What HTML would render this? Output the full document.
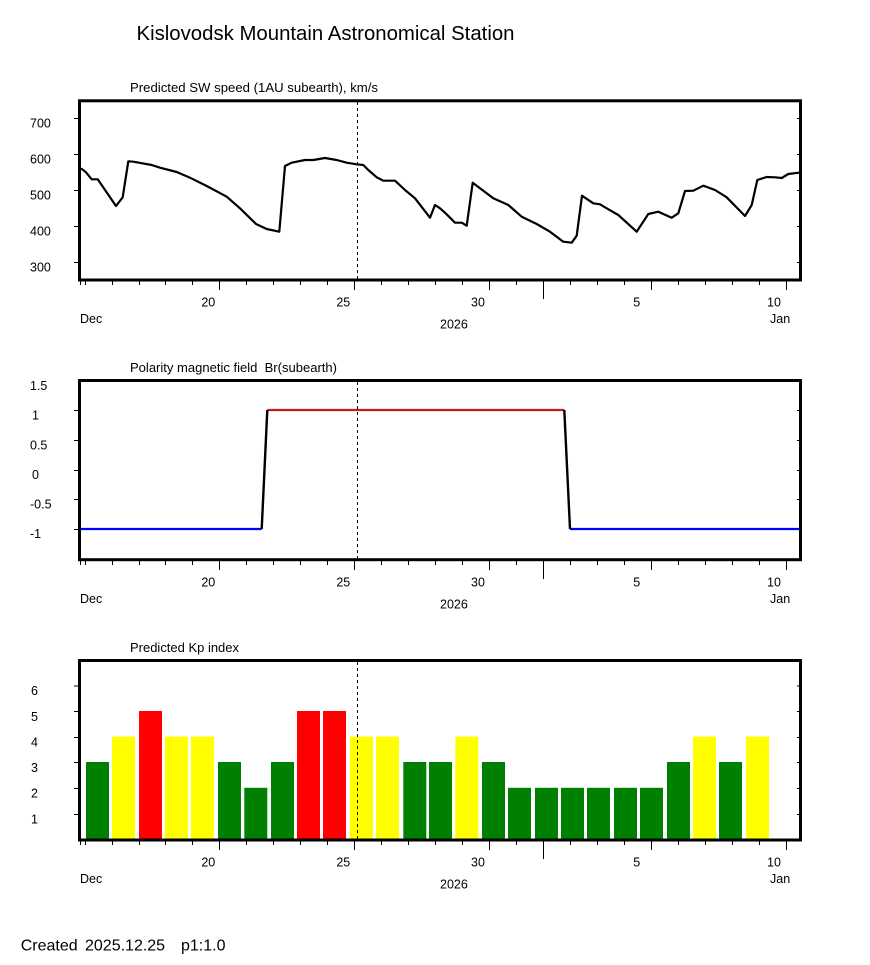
<!DOCTYPE html>
<html>
<head>
<meta charset="utf-8">
<style>
html,body{margin:0;padding:0;background:#fff;}
svg{display:block;}
text{font-family:"Liberation Sans",Arial,sans-serif;fill:#000;}
</style>
</head>
<body>
<svg width="870" height="965" viewBox="0 0 870 965" xmlns="http://www.w3.org/2000/svg">
<rect x="0" y="0" width="870" height="965" fill="#fff"/>

<text x="136.5" y="40" font-size="20" textLength="378" lengthAdjust="spacingAndGlyphs">Kislovodsk Mountain Astronomical Station</text>

<!-- ============ PLOT 1 ============ -->
<text x="130" y="92" font-size="13" textLength="248" lengthAdjust="spacingAndGlyphs">Predicted SW speed (1AU subearth), km/s</text>
<g font-size="12.5">
<text x="30" y="127.5">700</text>
<text x="30" y="163.5">600</text>
<text x="30" y="199.5">500</text>
<text x="30" y="235.5">400</text>
<text x="30" y="271.5">300</text>
</g>
<path d="M74 118.5H79 M74 154.5H79 M74 190.5H79 M74 226.5H79 M74 262.5H79 M797 118.5H800 M797 154.5H800 M797 190.5H800 M797 226.5H800 M797 262.5H800" stroke="#000" stroke-width="1" fill="none"/>
<polyline fill="none" stroke="#000" stroke-width="2.2" stroke-linejoin="round" points="81,168.3 86,172.3 91.7,179.3 97.7,179.3 116,206 122.7,197.3 128.3,161.3 133.3,161.7 151.7,165 160,167.7 176.7,172 190,177.7 206.7,186 226.7,196.7 240,208.3 256,224 266.7,229 279.3,231.7 285,166 291.7,162.7 305,160 313.3,160 325,158 336.7,160 346.7,162.7 356.7,164.3 363.3,165 368.3,170 376.7,177.3 383.3,180.7 395,180.7 405,190 415,198.3 430,217.7 435,205 440,208.3 445,212.7 455,222.7 461.7,222.7 466.7,225.7 472.7,182.7 480,188.3 493.3,198.3 508.3,205 521.7,216.7 536.7,224 550,231.7 563.3,241.7 571.7,242.7 576.7,235.7 582,195.7 593.3,203.3 600,204.3 606.7,208.3 618.3,215 636.7,231.7 648.3,214 658.3,211.7 671.7,217.7 678.3,213.3 685,191 693.3,190.7 703.3,185.7 715,190 726.7,197.3 745,216 751.7,205 757.3,180 766.7,177 775,177.3 781.7,178 788.3,174 799,172.7"/>
<line x1="357.5" y1="102" x2="357.5" y2="279" stroke="#000" stroke-width="1" stroke-dasharray="3,3"/>
<rect x="79.5" y="100.8" width="721" height="179.2" fill="none" stroke="#000" stroke-width="3"/>

<!-- ============ PLOT 2 ============ -->
<text x="130" y="372" font-size="13" textLength="207" lengthAdjust="spacingAndGlyphs" xml:space="preserve">Polarity magnetic field  Br(subearth)</text>
<g font-size="12.5">
<text x="30" y="390">1.5</text>
<text x="32" y="419.5">1</text>
<text x="30" y="449.5">0.5</text>
<text x="32" y="479">0</text>
<text x="30" y="508.5">-0.5</text>
<text x="30" y="538">-1</text>
</g>
<path d="M74 410.5H79 M74 440.5H79 M74 470.5H79 M74 499.5H79 M74 529.5H79 M797 410.5H800 M797 440.5H800 M797 470.5H800 M797 499.5H800 M797 529.5H800" stroke="#000" stroke-width="1" fill="none"/>
<path d="M81 529H261.7" stroke="#0000ff" stroke-width="2.2" fill="none"/>
<path d="M267.3 410H564.3" stroke="#c01c1c" stroke-width="2.2" fill="none"/>
<path d="M570 529H799" stroke="#0000ff" stroke-width="2.2" fill="none"/>
<path d="M261.7 529L267.3 410 M564.3 410L570 529" stroke="#000" stroke-width="2.4" fill="none"/>
<line x1="357.5" y1="382" x2="357.5" y2="559" stroke="#000" stroke-width="1" stroke-dasharray="3,3"/>
<rect x="79.5" y="380.5" width="721" height="179.2" fill="none" stroke="#000" stroke-width="3"/>

<!-- ============ PLOT 3 ============ -->
<text x="130" y="652" font-size="13" textLength="109" lengthAdjust="spacingAndGlyphs">Predicted Kp index</text>
<g font-size="12.5">
<text x="31" y="695">6</text>
<text x="31" y="721">5</text>
<text x="31" y="746.5">4</text>
<text x="31" y="772">3</text>
<text x="31" y="797.5">2</text>
<text x="31" y="823.5">1</text>
</g>
<path d="M74 686H79 M74 711.5H79 M74 737.5H79 M74 762.5H79 M74 788.5H79 M74 814.5H79 M797 686H800 M797 711.5H800 M797 737.5H800 M797 762.5H800 M797 788.5H800 M797 814.5H800" stroke="#000" stroke-width="1" fill="none"/>
<g>
<rect x="86" y="762" width="23" height="78" fill="#008000"/>
<rect x="112" y="736.6" width="23" height="103.4" fill="#ffff00"/>
<rect x="139" y="711" width="23" height="129" fill="#ff0000"/>
<rect x="165" y="736.6" width="23" height="103.4" fill="#ffff00"/>
<rect x="191" y="736.6" width="23" height="103.4" fill="#ffff00"/>
<rect x="218" y="762" width="23" height="78" fill="#008000"/>
<rect x="244.3" y="787.8" width="23" height="52.2" fill="#008000"/>
<rect x="271" y="762" width="23" height="78" fill="#008000"/>
<rect x="297" y="711" width="23" height="129" fill="#ff0000"/>
<rect x="323" y="711" width="23" height="129" fill="#ff0000"/>
<rect x="350" y="736.6" width="23" height="103.4" fill="#ffff00"/>
<rect x="376" y="736.6" width="23" height="103.4" fill="#ffff00"/>
<rect x="403.3" y="762" width="23" height="78" fill="#008000"/>
<rect x="429" y="762" width="23" height="78" fill="#008000"/>
<rect x="455.3" y="736.6" width="23" height="103.4" fill="#ffff00"/>
<rect x="482" y="762" width="23" height="78" fill="#008000"/>
<rect x="508" y="787.8" width="23" height="52.2" fill="#008000"/>
<rect x="535" y="787.8" width="23" height="52.2" fill="#008000"/>
<rect x="561" y="787.8" width="23" height="52.2" fill="#008000"/>
<rect x="587" y="787.8" width="23" height="52.2" fill="#008000"/>
<rect x="614" y="787.8" width="23" height="52.2" fill="#008000"/>
<rect x="640" y="787.8" width="23" height="52.2" fill="#008000"/>
<rect x="667" y="762" width="23" height="78" fill="#008000"/>
<rect x="693" y="736.6" width="23" height="103.4" fill="#ffff00"/>
<rect x="719" y="762" width="23" height="78" fill="#008000"/>
<rect x="746" y="736.6" width="23" height="103.4" fill="#ffff00"/>
</g>
<line x1="357.5" y1="662" x2="357.5" y2="839" stroke="#000" stroke-width="1" stroke-dasharray="3,3"/>
<rect x="79.5" y="660.5" width="721" height="179.5" fill="none" stroke="#000" stroke-width="3"/>

<!-- ============ X AXES (ticks) ============ -->
<path d="M80.5 281V285 M85.5 281V285 M112.5 281V285 M139.5 281V285 M165.5 281V285 M192.5 281V285 M219.5 281V290 M246.5 281V285 M273.5 281V285 M300.5 281V285 M327.5 281V285 M354.5 281V290 M381.5 281V285 M408.5 281V285 M435.5 281V285 M462.5 281V285 M489.5 281V290 M516.5 281V285 M543.5 281V299 M570.5 281V285 M597.5 281V285 M624.5 281V285 M651.5 281V290 M678.5 281V285 M705.5 281V285 M732.5 281V285 M759.5 281V285 M786.5 281V290" stroke="#000" stroke-width="1" fill="none"/>
<path d="M80.5 561V565 M85.5 561V565 M112.5 561V565 M139.5 561V565 M165.5 561V565 M192.5 561V565 M219.5 561V570 M246.5 561V565 M273.5 561V565 M300.5 561V565 M327.5 561V565 M354.5 561V570 M381.5 561V565 M408.5 561V565 M435.5 561V565 M462.5 561V565 M489.5 561V570 M516.5 561V565 M543.5 561V579 M570.5 561V565 M597.5 561V565 M624.5 561V565 M651.5 561V570 M678.5 561V565 M705.5 561V565 M732.5 561V565 M759.5 561V565 M786.5 561V570" stroke="#000" stroke-width="1" fill="none"/>
<path d="M80.5 841V845 M85.5 841V845 M112.5 841V845 M139.5 841V845 M165.5 841V845 M192.5 841V845 M219.5 841V850 M246.5 841V845 M273.5 841V845 M300.5 841V845 M327.5 841V845 M354.5 841V850 M381.5 841V845 M408.5 841V845 M435.5 841V845 M462.5 841V845 M489.5 841V850 M516.5 841V845 M543.5 841V859 M570.5 841V845 M597.5 841V845 M624.5 841V845 M651.5 841V850 M678.5 841V845 M705.5 841V845 M732.5 841V845 M759.5 841V845 M786.5 841V850" stroke="#000" stroke-width="1" fill="none"/>

<g font-size="12.5" text-anchor="middle">
<text x="208.3" y="306.5">20</text>
<text x="343.3" y="306.5">25</text>
<text x="478" y="306.5">30</text>
<text x="636.7" y="306.5">5</text>
<text x="774" y="306.5">10</text>
<text x="208.3" y="586.5">20</text>
<text x="343.3" y="586.5">25</text>
<text x="478" y="586.5">30</text>
<text x="636.7" y="586.5">5</text>
<text x="774" y="586.5">10</text>
<text x="208.3" y="866.5">20</text>
<text x="343.3" y="866.5">25</text>
<text x="478" y="866.5">30</text>
<text x="636.7" y="866.5">5</text>
<text x="774" y="866.5">10</text>
</g>
<g font-size="12.5">
<text x="80" y="323">Dec</text>
<text x="440" y="328.3">2026</text>
<text x="770" y="323">Jan</text>
<text x="80" y="603">Dec</text>
<text x="440" y="608.3">2026</text>
<text x="770" y="603">Jan</text>
<text x="80" y="883">Dec</text>
<text x="440" y="888.3">2026</text>
<text x="770" y="883">Jan</text>
</g>

<!-- footer -->
<g font-size="16">
<text x="20.7" y="950.5">Created</text>
<text x="85" y="950.5">2025.12.25</text>
<text x="181" y="950.5">p1:1.0</text>
</g>
</svg>
</body>
</html>
